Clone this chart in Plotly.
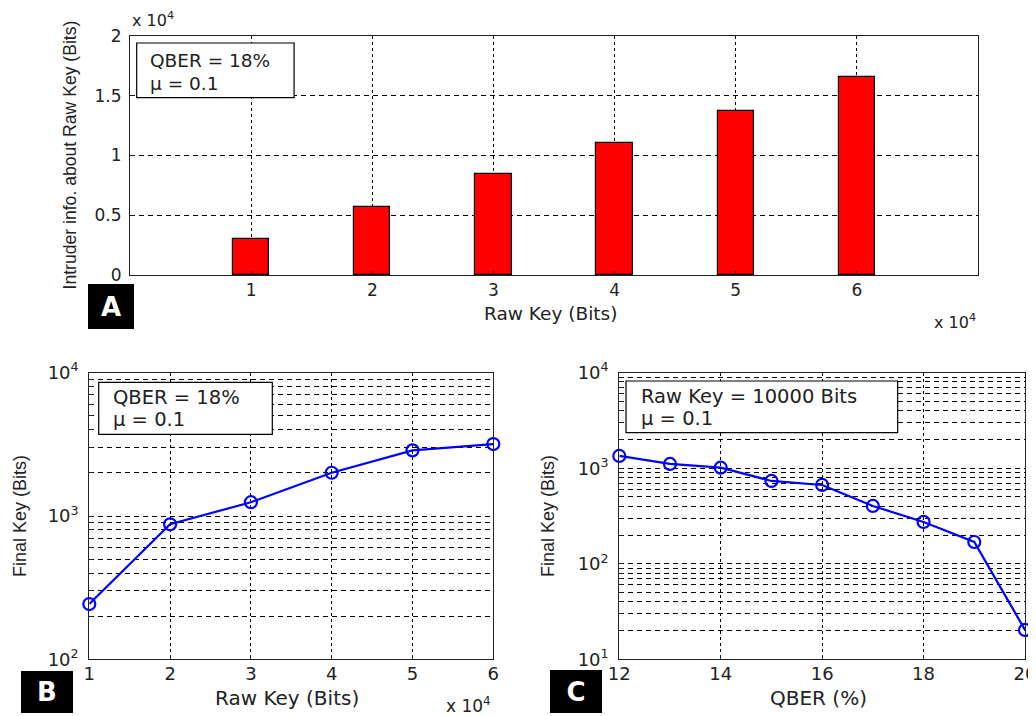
import plotly.graph_objects as go

# ---- data ----
raw_key_a = [10000, 20000, 30000, 40000, 50000, 60000]
intruder_info = [3000, 5700, 8450, 11050, 13750, 16550]

raw_key_b = [10000, 20000, 30000, 40000, 50000, 60000]
final_key_b = [243, 875, 1248, 2004, 2871, 3177]

qber_c = [12, 13, 14, 15, 16, 17, 18, 19, 20]
final_key_c = [1345, 1109, 1014, 736, 668, 403, 274, 169, 20.3]

x_ticks_raw = [10000, 20000, 30000, 40000, 50000, 60000]
x_ticktext_raw = ["1", "2", "3", "4", "5", "6"]
y_ticks_a = [0, 5000, 10000, 15000, 20000]
y_ticktext_a = ["0", "0.5", "1", "1.5", "2"]
x_ticks_c = [12, 14, 16, 18, 20]

HFONT = "DejaVu Sans, sans-serif"
VFONT = "Liberation Sans, Arial, sans-serif"
TXT = "#222222"
OFF = 8  # default page body margin
W, H = 1036 - OFF, 716 - OFF


def px_x(p):
    return (p - OFF) / W


def px_y(p):
    return 1 - (p - OFF) / H


def log_ticks(lo, hi):
    vals, txt = [], []
    for e in range(lo, hi + 1):
        for m in range(1, 10):
            if e == hi and m > 1:
                break
            vals.append(m * 10 ** e)
            txt.append(f"10<sup>{e}</sup>" if m == 1 else "")
    return vals, txt


yb_vals, yb_txt = log_ticks(2, 4)
yc_vals, yc_txt = log_ticks(1, 4)


def ax(size, dash, **kw):
    d = dict(showgrid=True, gridcolor="black", gridwidth=1, griddash=dash,
             showline=True, linecolor="#222222", linewidth=1.2, mirror=True,
             ticks="inside", ticklen=4, tickcolor="#222222", zeroline=False,
             automargin=False, ticklabeloverflow="allow",
             tickfont=dict(family=HFONT, size=size, color=TXT))
    d.update(kw)
    return d


XD = "3px,3px"
YD = "5px,4px"

fig = go.Figure()

fig.add_trace(go.Bar(x=raw_key_a, y=intruder_info, width=3000,
                     marker=dict(color="#ff0000", line=dict(color="black", width=1.2)),
                     xaxis="x", yaxis="y", showlegend=False))

fig.add_trace(go.Scatter(x=raw_key_b, y=final_key_b, mode="lines+markers",
                         line=dict(color="#0000ff", width=2.2),
                         marker=dict(symbol="circle-open", size=12, color="#0000ff",
                                     line=dict(width=2.2, color="#0000ff")),
                         cliponaxis=False, xaxis="x2", yaxis="y2", showlegend=False))

fig.add_trace(go.Scatter(x=qber_c, y=final_key_c, mode="lines+markers",
                         line=dict(color="#0000ff", width=2.2),
                         marker=dict(symbol="circle-open", size=12, color="#0000ff",
                                     line=dict(width=2.2, color="#0000ff")),
                         cliponaxis=False, xaxis="x3", yaxis="y3", showlegend=False))

fig.update_layout(
    width=W, height=H, margin=dict(l=0, r=0, t=0, b=0),
    paper_bgcolor="white", plot_bgcolor="white", bargap=0,
    xaxis=ax(17, XD, domain=[px_x(130), px_x(978)], range=[0, 70000],
             tickvals=x_ticks_raw, ticktext=x_ticktext_raw, anchor="y",
             ticklabelstandoff=-1),
    yaxis=ax(17, YD, domain=[px_y(275), px_y(36)], range=[0, 20000],
             tickvals=y_ticks_a, ticktext=y_ticktext_a, anchor="x",
             ticklabelstandoff=4),
    xaxis2=ax(18, XD, domain=[px_x(89.3), px_x(493.3)], range=[10000, 60000],
              tickvals=x_ticks_raw, ticktext=x_ticktext_raw, anchor="y2",
              ticklabelstandoff=-2),
    yaxis2=ax(18, YD, domain=[px_y(659.3), px_y(372.7)], type="log", range=[2, 4],
              tickvals=yb_vals, ticktext=yb_txt, anchor="x2", ticklabelstandoff=6),
    xaxis3=ax(18, XD, domain=[px_x(619.3), px_x(1025)], range=[12, 20],
              tickvals=x_ticks_c, anchor="y3", ticklabelstandoff=-2),
    yaxis3=ax(18, YD, domain=[px_y(659.3), px_y(372.7)], type="log", range=[1, 4],
              tickvals=yc_vals, ticktext=yc_txt, anchor="x3", ticklabelstandoff=6),
)

# text boxes (frames) inside panels
boxes = [
    ("x", "y", 0.0079, 0.1935, 0.742, 0.9707),
    ("x2", "y2", 0.0233, 0.4530, 0.785, 0.9665),
    ("x3", "y3", 0.0165, 0.6862, 0.791, 0.971),
]
for xr, yr, x0, x1, y0, y1 in boxes:
    fig.add_shape(type="rect", xref=f"{xr} domain", yref=f"{yr} domain",
                  x0=x0, x1=x1, y0=y0, y1=y1, fillcolor="white",
                  line=dict(color="black", width=1.2), layer="above")

box_lines = [
    ("x", "y", 0.0208, 0.898, "QBER = 18%", 18.5),
    ("x", "y", 0.0208, 0.803, "μ = 0.1", 18.5),
    ("x2", "y2", 0.0537, 0.9128, "QBER = 18%", 19.5),
    ("x2", "y2", 0.0537, 0.835, "μ = 0.1", 19.5),
    ("x3", "y3", 0.0486, 0.9187, "Raw Key = 10000 Bits", 19.5),
    ("x3", "y3", 0.0486, 0.841, "μ = 0.1", 19.5),
]
for xr, yr, x, y, t, s in box_lines:
    fig.add_annotation(xref=f"{xr} domain", yref=f"{yr} domain", x=x, y=y, text=t,
                       showarrow=False, xanchor="left", yanchor="middle", align="left",
                       font=dict(family=HFONT, size=s, color=TXT))

# axis titles
titles = [
    (px_x(550), px_y(313), "Raw Key (Bits)", 0, HFONT, 18.5),
    (px_x(69), px_y(155.5), "Intruder info. about Raw Key (Bits)", -90, VFONT, 17.6),
    (px_x(287), px_y(698), "Raw Key (Bits)", 0, HFONT, 20),
    (px_x(20), px_y(516), "Final Key (Bits)", -90, VFONT, 18),
    (px_x(818), px_y(698), "QBER (%)", 0, HFONT, 20),
    (px_x(548), px_y(516), "Final Key (Bits)", -90, VFONT, 18),
]
for x, y, t, a, f, s in titles:
    fig.add_annotation(xref="paper", yref="paper", x=x, y=y, text=t, textangle=a,
                       showarrow=False, xanchor="center", yanchor="middle",
                       font=dict(family=f, size=s, color=TXT))

# exponent labels
exps = [
    (px_x(130), px_y(20), "left", 16),
    (px_x(978), px_y(321), "right", 16),
    (px_x(493), px_y(705), "right", 17),
]
for x, y, anc, s in exps:
    fig.add_annotation(xref="paper", yref="paper", x=x, y=y, text="x 10<sup>4</sup>",
                       showarrow=False, xanchor=anc, yanchor="middle",
                       font=dict(family=HFONT, size=s, color=TXT))

# panel letters
letters = [
    ("A", 111, 306.5, 46, 45),
    ("B", 46.5, 692, 52, 42),
    ("C", 575.8, 691.3, 52, 43),
]
for t, cx, cy, w, h in letters:
    fig.add_annotation(xref="paper", yref="paper", x=px_x(cx), y=px_y(cy),
                       text=f"<b>{t}</b>", showarrow=False, xanchor="center",
                       yanchor="middle", width=w, height=h, bgcolor="black",
                       borderpad=0, borderwidth=0, align="center", valign="middle",
                       font=dict(family=HFONT, size=26, color="white"))

fig.write_html("out.html")
